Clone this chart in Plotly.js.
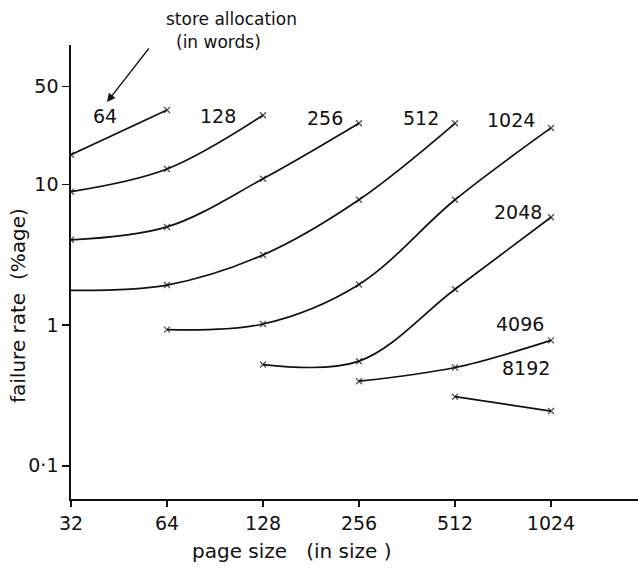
<!DOCTYPE html>
<html>
<head>
<meta charset="utf-8">
<script src="https://cdn.plot.ly/plotly-3.0.1.min.js"></script>
<style>html,body{margin:0;padding:0;background:#fff}#chart{width:638px;height:569px}</style>
</head>
<body>
<div id="chart"></div>
<script>
// page sizes (x) and failure rate (%) for each store allocation (words)
const pageSizes = [32, 64, 128, 256, 512, 1024];
const pageTickText = ["32", "64", "128", "256", "512", "1024"];
const rateTickVals = [0.1, 1, 10, 50];
const rateTickText = ["0·1", "1", "10", "50"];

const alloc64_x = [32, 64];
const alloc64_y = [16.3, 33.9];
const alloc128_x = [32, 64, 128];
const alloc128_y = [8.9, 12.9, 31.1];
const alloc256_x = [32, 64, 128, 256];
const alloc256_y = [4.05, 5.0, 11.0, 27.3];
const alloc512_x = [32, 64, 128, 256, 512];
const alloc512_y = [1.77, 1.93, 3.16, 7.8, 27.3];
const alloc1024_x = [64, 128, 256, 512, 1024];
const alloc1024_y = [0.93, 1.02, 1.95, 7.8, 25.3];
const alloc2048_x = [128, 256, 512, 1024];
const alloc2048_y = [0.525, 0.555, 1.80, 5.86];
const alloc4096_x = [256, 512, 1024];
const alloc4096_y = [0.40, 0.50, 0.78];
const alloc8192_x = [512, 1024];
const alloc8192_y = [0.31, 0.245];

const seriesNames = ["64", "128", "256", "512", "1024", "2048", "4096", "8192"];
const seriesX = [alloc64_x, alloc128_x, alloc256_x, alloc512_x, alloc1024_x, alloc2048_x, alloc4096_x, alloc8192_x];
const seriesY = [alloc64_y, alloc128_y, alloc256_y, alloc512_y, alloc1024_y, alloc2048_y, alloc4096_y, alloc8192_y];

const ink = "#111";
const traces = seriesNames.map((name, i) => {
  const sizes = seriesX[i].map((v, j) => (name === "512" && j === 0) ? 0 : 6);
  return {
    type: "scatter",
    mode: "lines+markers",
    name: name,
    x: seriesX[i],
    y: seriesY[i],
    line: {color: ink, width: 1.7, shape: "spline", smoothing: 1},
    marker: {symbol: "x-thin", size: sizes, color: ink, line: {color: ink, width: 1.4}},
    showlegend: false,
    hoverinfo: "x+y+name"
  };
});

const fontFam = "DejaVu Sans, Verdana, sans-serif";
function lbl(text, x, y, size) {
  return {text: text, xref: "paper", yref: "paper", x: x, y: y, showarrow: false,
          font: {family: fontFam, size: size, color: ink}, xanchor: "center", yanchor: "middle"};
}

const annotations = [
  lbl("64", 0.060, 0.8436, 19),
  lbl("128", 0.2593, 0.8436, 19),
  lbl("256", 0.4474, 0.8392, 19),
  lbl("512", 0.6173, 0.8392, 19),
  lbl("1024", 0.776, 0.8348, 19),
  lbl("2048", 0.7892, 0.632, 19),
  lbl("4096", 0.7919, 0.3855, 19),
  lbl("8192", 0.8025, 0.2885, 19),
  lbl("store allocation", 0.2822, 1.0573, 17),
  lbl("(in words)", 0.2593, 1.0066, 17),
  {text: "", xref: "paper", yref: "paper", x: 0.0635, y: 0.8744, ax: 43, ay: -55,
   showarrow: true, arrowhead: 2, arrowsize: 1.3, arrowwidth: 1.3, arrowcolor: ink},
  Object.assign(lbl("failure rate\u00a0\u00a0(%age)", -0.0935, 0.4273, 20), {textangle: -90}),
  lbl("page size\u00a0\u00a0\u00a0(in size\u00a0)", 0.3889, -0.1145, 20)
];

const layout = {
  width: 638, height: 569,
  margin: {l: 71, r: 0, t: 45, b: 70},
  paper_bgcolor: "#fff", plot_bgcolor: "#fff",
  font: {family: fontFam, color: ink},
  xaxis: {
    type: "log",
    range: [1.50515, 3.2831],
    tickvals: pageSizes, ticktext: pageTickText,
    ticks: "outside", ticklen: 6, tickwidth: 1.5, tickcolor: ink,
    showline: true, linecolor: ink, linewidth: 1.7,
    showgrid: false, zeroline: false,
    tickfont: {family: fontFam, size: 19, color: ink},
    title: {text: ""}
  },
  yaxis: {
    type: "log",
    range: [-1.2362, 1.9929],
    tickvals: rateTickVals, ticktext: rateTickText,
    ticks: "outside", ticklen: 7, tickwidth: 1.5, tickcolor: ink,
    showline: true, linecolor: ink, linewidth: 1.7,
    showgrid: false, zeroline: false,
    tickfont: {family: fontFam, size: 19, color: ink},
    title: {text: ""}
  },
  annotations: annotations
};

Plotly.newPlot("chart", traces, layout, {displayModeBar: false, staticPlot: true});
</script>
</body>
</html>
